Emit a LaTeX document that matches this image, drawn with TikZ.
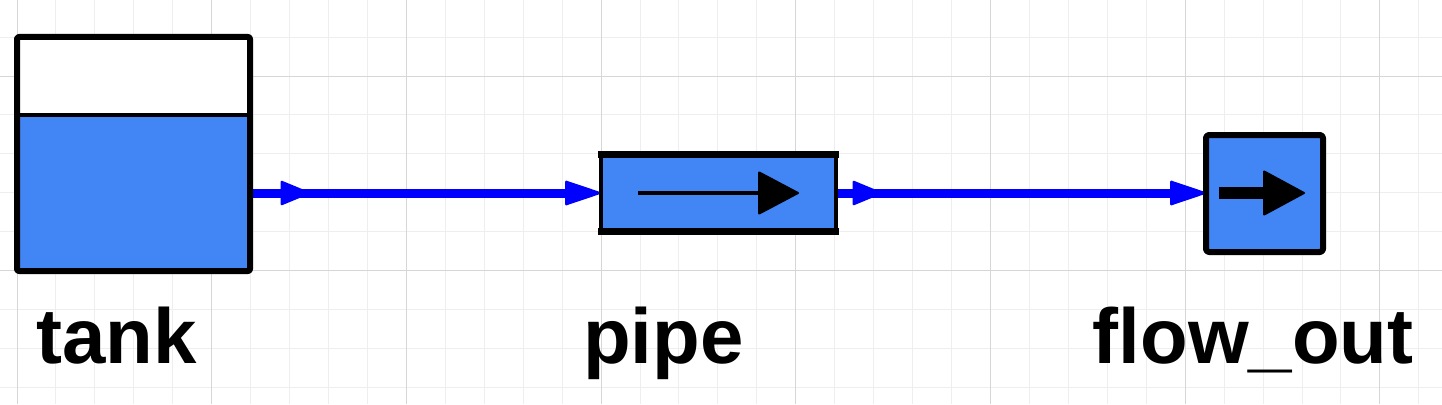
\documentclass[tikz,border=0pt]{standalone}
\usepackage{fontspec}
\setmainfont{Liberation Sans}
\usetikzlibrary{arrows.meta,decorations.markings}
\definecolor{water}{RGB}{66,133,244}
\definecolor{flowblue}{RGB}{0,0,255}
\definecolor{gridminor}{RGB}{238,238,238}
\definecolor{gridmajor}{RGB}{214,214,214}
\tikzset{
  lbl/.style={anchor=base,inner sep=0pt,font=\fontsize{78}{80}\selectfont\bfseries},
  conn/.style={draw=flowblue,line width=9pt,
    -{Triangle[length=38pt,width=25pt,line width=2pt,round]}},
  midarrow/.style={postaction={decorate},decoration={markings,
    mark=at position #1 with {\arrow{Triangle[length=31pt,width=25pt,line width=2pt,round]}}}},
  box/.style={inner sep=0pt,outer sep=0pt},
}
\begin{document}
\begin{tikzpicture}[x=1pt,y=-1pt]
\useasboundingbox (0,0) rectangle (1442,404);
% grid
\foreach \i in {-1,...,37} {
  \draw[gridminor,line width=1pt] ({17+38.94*\i},0) -- ({17+38.94*\i},404);
}
\foreach \j in {-1,...,10} {
  \draw[gridminor,line width=1pt] (0,{76+38.94*(\j-2)}) -- (1442,{76+38.94*(\j-2)});
}
\foreach \i in {0,...,7} {
  \draw[gridmajor,line width=1pt] ({17+194.7*\i},0) -- ({17+194.7*\i},404);
}
\foreach \j in {0,1,2} {
  \draw[gridmajor,line width=1pt] (0,{76+194.7*(\j)}) -- (1442,{76+194.7*(\j)});
}
% nodes (geometry)
\node[box,minimum width=233pt,minimum height=234pt] (tank) at (133.5,154) {};
\node[box,minimum width=235pt,minimum height=77pt] (pipe) at (718.5,193) {};
\node[box,minimum width=117pt,minimum height=117pt] (flow) at (1264.5,193.5) {};
% fills
\fill[water] (tank.south west) rectangle (tank.east |- 0,115);
\fill[white] (tank.north west) rectangle (tank.east |- 0,115);
\fill[water] (pipe.south west) rectangle (pipe.north east);
\fill[water] (flow.south west) rectangle (flow.north east);
% connectors
\coordinate (t1) at (tank.east |- 0,193);
\coordinate (p1) at (pipe.west |- 0,193);
\coordinate (p2) at (pipe.east |- 0,193);
\coordinate (f1) at (flow.west |- 0,193);
\draw[conn,midarrow=60pt] (t1) -- (p1);
\draw[conn,midarrow=46pt] (p2) -- (f1);
% borders
\draw[line width=6pt,line join=round,rounded corners=2pt] (tank.south west) rectangle (tank.north east);
\draw[line width=4pt] (tank.west |- 0,115) -- (tank.east |- 0,115);
\draw[line width=7pt] ([xshift=-3pt]pipe.north west) -- ([xshift=3pt]pipe.north east);
\draw[line width=7pt] ([xshift=-3pt]pipe.south west) -- ([xshift=3pt]pipe.south east);
\draw[line width=4pt] (pipe.north west) -- (pipe.south west);
\draw[line width=4pt] (pipe.north east) -- (pipe.south east);
\draw[line width=6pt,line join=round,rounded corners=3pt] (flow.south west) rectangle (flow.north east);
% inner arrows
\coordinate (pa) at (638,193);
\coordinate (pb) at (799,193);
\draw[line width=3.5pt,-{Triangle[length=42pt,width=44pt,line width=2pt,round]}] (pa) -- (pb);
\coordinate (fa) at (1219,193);
\coordinate (fb) at (1305,193);
\draw[line width=12pt,-{Triangle[length=43pt,width=46pt,line width=2pt,round]}] (fa) -- (fb);
% labels
\node[lbl] (tanklbl) at (116.5,363) {tank};
\node[lbl] (pipelbl) at (663.5,363) {pipe};
\node[lbl] (flowlbl) at (1253,363) {flow\_out};
\end{tikzpicture}
\end{document}
